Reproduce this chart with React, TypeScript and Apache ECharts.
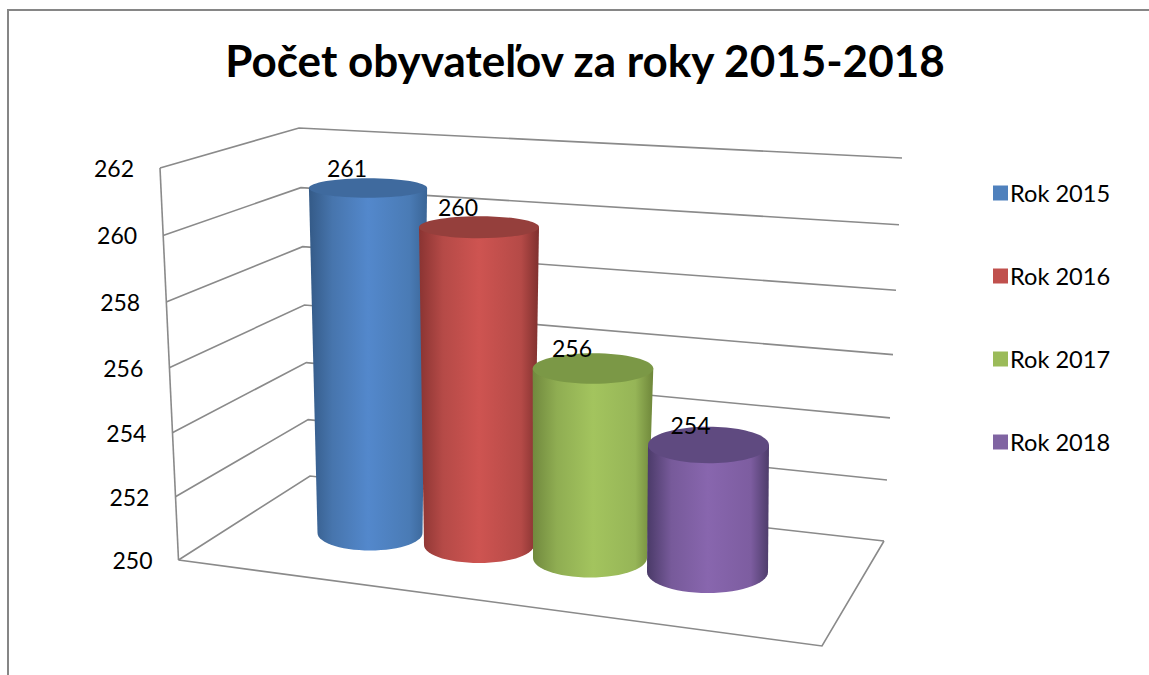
import React, { useEffect, useRef } from "react";
import * as echarts from "echarts";

const titleText = "Počet obyvateľov za roky 2015-2018";
const years = ["Rok 2015", "Rok 2016", "Rok 2017", "Rok 2018"];
const residents = [261, 260, 256, 254];
const tickValues = [250, 252, 254, 256, 258, 260, 262];

const FONT = "Lato, Carlito, 'Open Sans', sans-serif";
const LINE = "#8a8a8a";
const legendColors = ["#4f81bd", "#c0504d", "#9bbb59", "#8064a2"];
const capColors = ["#3f6a9e", "#953f3c", "#7b9846", "#5f4a80"];
const bodyStops = [
  ["#345a87", "#4775ad", "#5388cc", "#4a7bb5", "#3a6596"],
  ["#8a3432", "#b54a47", "#ce5451", "#b54a47", "#7f302e"],
  ["#71893e", "#8fad52", "#a3c45e", "#96b557", "#6e863a"],
  ["#4a3a68", "#775a9a", "#8866ae", "#7d5da0", "#4d3c6a"],
];
const stopOffsets = [0, 0.2, 0.5, 0.85, 1];

// Perspective layout of the cylinders (pixels), one entry per category
const cylinderLayout = [
  { dx: 0, lean: -0.18, baseY: 533, baseRx: 52.5, drx: 0.6, baseRy: 17.5, hk: 0.96, labelDx: -21 },
  { dx: -3.5, lean: 0, baseY: 545, baseRx: 55, drx: 0.5, baseRy: 18, hk: 0.973, labelDx: -21 },
  { dx: -5, lean: 0.5, baseY: 558, baseRx: 57, drx: 0.55, baseRy: 19.5, hk: 0.967, labelDx: -21 },
  { dx: 0, lean: 0.25, baseY: 572, baseRx: 60.5, drx: 0, baseRy: 21, hk: 0.972, labelDx: -18 },
];

// Corners of the 3-D box: [x, y at axis min, y at axis max, perspective]
const GRID_TOP = 168;
const GRID_H = 392;
const frontLeft = { x0: 178.5, x1: 160, y0: 560, y1: 168, k: 0.04 };
const backLeft = { x0: 310, x1: 299, y0: 476, y1: 128, k: 0.035 };
const backRight = { x0: 884, x1: 902, y0: 541, y1: 158, k: 0.055 };
const frontRight = { x: 822, y: 646 };

function project(c: any, t: number) {
  const p = t / (1 + c.k * (1 - t));
  return [c.x0 + (c.x1 - c.x0) * t, c.y0 + (c.y1 - c.y0) * p];
}

function renderWalls(_: any, api: any) {
  const v = api.value(1);
  const py = api.coord([0, v])[1];
  const t = (GRID_TOP + GRID_H - py) / GRID_H;
  const a = project(frontLeft, t);
  const b = project(backLeft, t);
  const c = project(backRight, t);
  const children: any[] = [
    {
      type: "polyline",
      shape: { points: [a, b, c] },
      style: { stroke: LINE, lineWidth: 1.6, fill: "none" },
    },
    {
      type: "text",
      x: a[0] - 26,
      y: a[1],
      style: { text: String(v), font: `23px ${FONT}`, fill: "#000", align: "right", verticalAlign: "middle" },
    },
  ];
  if (v === tickValues[0]) {
    const top = project(frontLeft, 1);
    children.push(
      { type: "line", shape: { x1: a[0], y1: a[1], x2: top[0], y2: top[1] }, style: { stroke: LINE, lineWidth: 1.6 } },
      {
        type: "polyline",
        shape: { points: [a, [frontRight.x, frontRight.y], c] },
        style: { stroke: LINE, lineWidth: 1.6, fill: "none" },
      }
    );
  }
  return { type: "group", children };
}

function renderCylinder(params: any, api: any) {
  const i = api.value(0);
  const v = api.value(1);
  const L = cylinderLayout[i];
  const centerX = api.coord([i, v])[0] + L.dx;
  const unitsUp = v - tickValues[0];
  const pixelH = api.coord([i, tickValues[0]])[1] - api.coord([i, v])[1];
  const topY = L.baseY - pixelH * L.hk;
  const topX = centerX + L.lean * unitsUp;
  const topRx = L.baseRx + L.drx * unitsUp;
  const topRy = L.baseRy - 0.7 * unitsUp;

  const pts: number[][] = [[topX - topRx, topY]];
  for (let a = 180; a >= 0; a -= 6) {
    const r = (a * Math.PI) / 180;
    pts.push([centerX + L.baseRx * Math.cos(r), L.baseY + L.baseRy * Math.sin(r)]);
  }
  pts.push([topX + topRx, topY]);

  const fill = new echarts.graphic.LinearGradient(
    0, 0, 1, 0,
    bodyStops[i].map((color, k) => ({ offset: stopOffsets[k], color }))
  );
  return {
    type: "group",
    children: [
      { type: "polygon", shape: { points: pts }, style: { fill } },
      { type: "ellipse", shape: { cx: topX, cy: topY, rx: topRx, ry: topRy }, style: { fill: capColors[i] } },
      {
        type: "text",
        x: topX + L.labelDx,
        y: topY - 20,
        z2: 10,
        style: { text: String(v), font: `23px ${FONT}`, fill: "#000", align: "center", verticalAlign: "middle" },
      },
    ],
  };
}

export default function App() {
  const ref = useRef<HTMLDivElement>(null);
  useEffect(() => {
    document.body.style.margin = "0";
    document.body.style.overflow = "hidden";
    const chart = echarts.init(ref.current!, null, { renderer: "svg" });
    chart.setOption({
      animation: false,
      backgroundColor: "#fff",
      title: {
        text: titleText,
        left: 580,
        top: 33,
        textAlign: "center",
        textStyle: { fontFamily: FONT, fontSize: 44, fontWeight: "bold", color: "#000" },
      },
      legend: {
        data: years,
        orient: "vertical",
        left: 988,
        top: 176,
        icon: "rect",
        itemWidth: 15,
        itemHeight: 15,
        itemGap: 59,
        textStyle: { fontFamily: FONT, fontSize: 23.6, color: "#000", padding: [0, 0, 0, -3] },
      },
      grid: { left: 313.75, top: GRID_TOP, width: 450, height: GRID_H },
      xAxis: { type: "category", data: years, show: false },
      yAxis: { type: "value", min: 250, max: 262, interval: 2, show: false },
      graphic: [
        {
          type: "polyline",
          shape: { points: [[8, 675], [8, 10], [1149, 10]] },
          style: { stroke: "#868686", lineWidth: 2, fill: "none" },
          silent: true,
        },
      ],
      series: [
        {
          type: "custom",
          name: "walls",
          coordinateSystem: "cartesian2d",
          renderItem: renderWalls,
          clip: false,
          silent: true,
          data: tickValues.map((v) => [0, v]),
          z: 1,
        },
        ...years.map((name, i) => ({
          type: "custom",
          name,
          coordinateSystem: "cartesian2d",
          renderItem: renderCylinder,
          clip: false,
          itemStyle: { color: legendColors[i] },
          data: [[i, residents[i]]],
          z: 2 + i,
        })),
      ],
    });
    return () => chart.dispose();
  }, []);
  return <div ref={ref} style={{ position: "fixed", left: 0, top: 0, width: 1149, height: 675 }} />;
}
